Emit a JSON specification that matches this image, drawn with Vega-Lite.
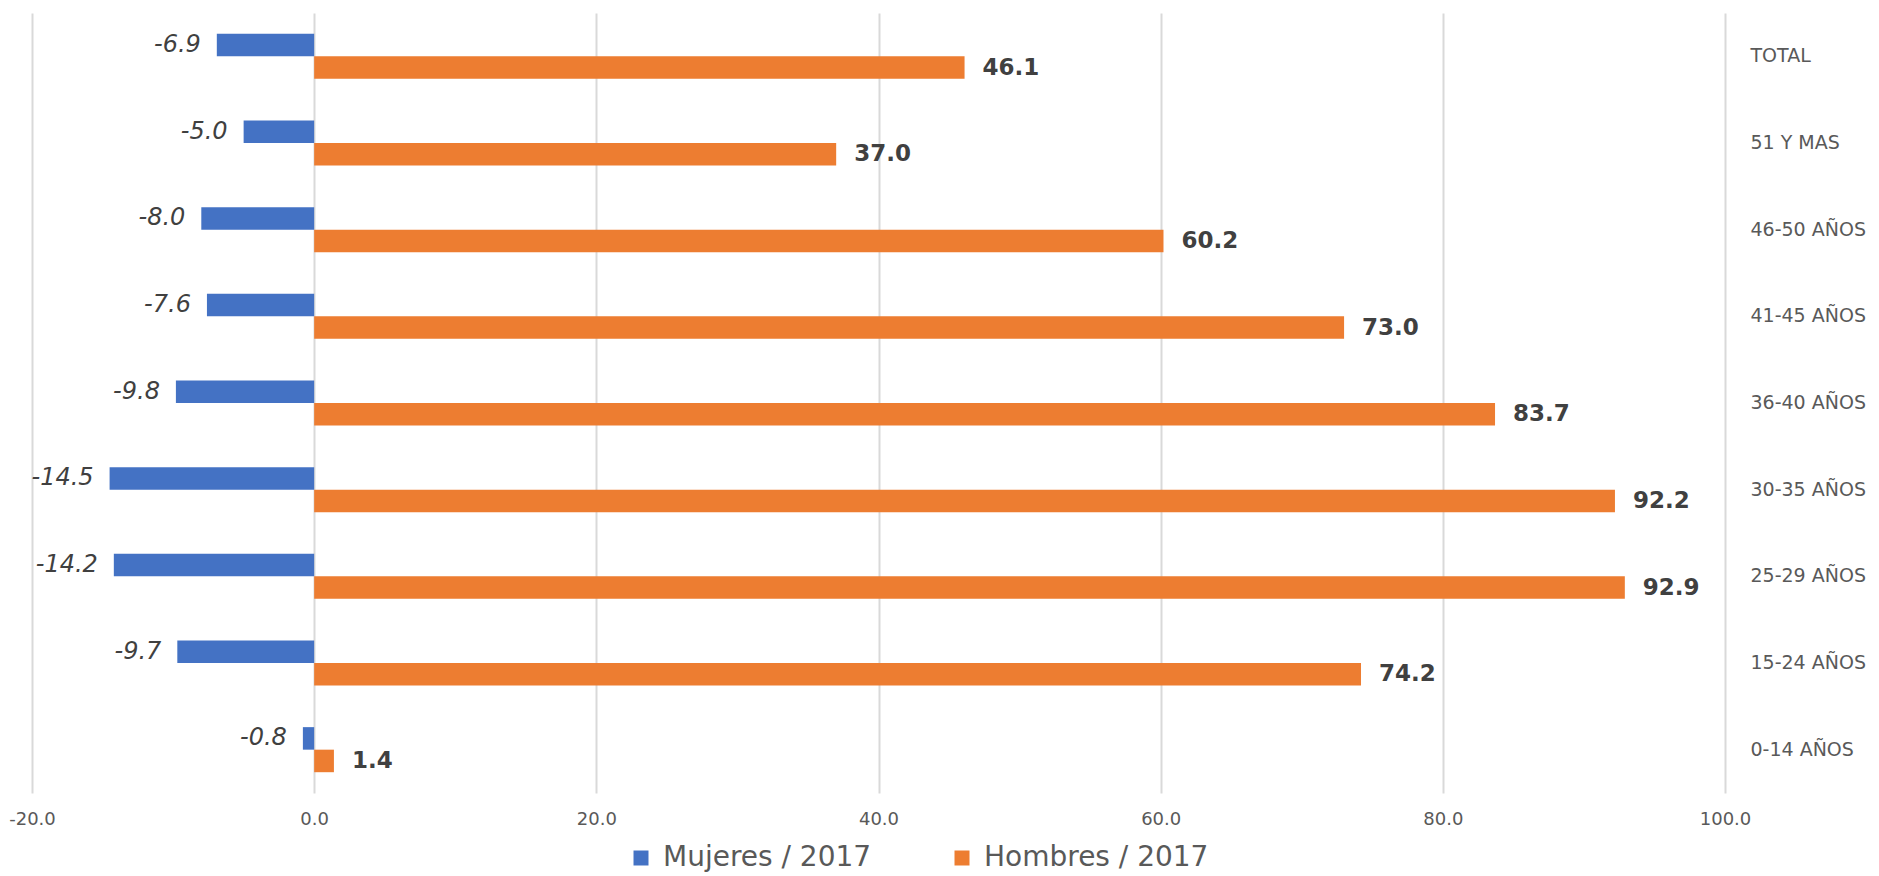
{
  "$schema": "https://vega.github.io/schema/vega-lite/v6.json",
  "width": 1693,
  "height": 780,
  "autosize": {"type": "none"},
  "padding": {"left": 32, "top": 13, "right": 154, "bottom": 83},
  "background": "white",
  "config": {
    "view": {"stroke": null},
    "locale": {"number": {"decimal": ".", "thousands": ",", "grouping": [3], "currency": ["$", ""], "minus": "-"}}
  },
  "data": {
    "values": [
      {"grupo": "TOTAL", "serie": "Mujeres / 2017", "valor": -6.9},
      {"grupo": "TOTAL", "serie": "Hombres / 2017", "valor": 46.1},
      {"grupo": "51 Y MAS", "serie": "Mujeres / 2017", "valor": -5.0},
      {"grupo": "51 Y MAS", "serie": "Hombres / 2017", "valor": 37.0},
      {"grupo": "46-50 AÑOS", "serie": "Mujeres / 2017", "valor": -8.0},
      {"grupo": "46-50 AÑOS", "serie": "Hombres / 2017", "valor": 60.2},
      {"grupo": "41-45 AÑOS", "serie": "Mujeres / 2017", "valor": -7.6},
      {"grupo": "41-45 AÑOS", "serie": "Hombres / 2017", "valor": 73.0},
      {"grupo": "36-40 AÑOS", "serie": "Mujeres / 2017", "valor": -9.8},
      {"grupo": "36-40 AÑOS", "serie": "Hombres / 2017", "valor": 83.7},
      {"grupo": "30-35 AÑOS", "serie": "Mujeres / 2017", "valor": -14.5},
      {"grupo": "30-35 AÑOS", "serie": "Hombres / 2017", "valor": 92.2},
      {"grupo": "25-29 AÑOS", "serie": "Mujeres / 2017", "valor": -14.2},
      {"grupo": "25-29 AÑOS", "serie": "Hombres / 2017", "valor": 92.9},
      {"grupo": "15-24 AÑOS", "serie": "Mujeres / 2017", "valor": -9.7},
      {"grupo": "15-24 AÑOS", "serie": "Hombres / 2017", "valor": 74.2},
      {"grupo": "0-14 AÑOS", "serie": "Mujeres / 2017", "valor": -0.8},
      {"grupo": "0-14 AÑOS", "serie": "Hombres / 2017", "valor": 1.4}
    ]
  },
  "encoding": {
    "y": {
      "field": "grupo",
      "type": "nominal",
      "sort": ["TOTAL", "51 Y MAS", "46-50 AÑOS", "41-45 AÑOS", "36-40 AÑOS", "30-35 AÑOS", "25-29 AÑOS", "15-24 AÑOS", "0-14 AÑOS"],
      "scale": {"paddingInner": 0.48, "paddingOuter": 0.24},
      "axis": {
        "orient": "right",
        "title": null,
        "domain": false,
        "ticks": false,
        "grid": false,
        "labelAlign": "left",
        "labelPadding": 25,
        "labelFont": "DejaVu Sans",
        "labelFontSize": 19,
        "labelColor": "#595959",
        "labelLimit": 300
      }
    },
    "yOffset": {
      "field": "serie",
      "type": "nominal",
      "sort": ["Mujeres / 2017", "Hombres / 2017"],
      "scale": {"paddingInner": 0, "paddingOuter": 0}
    },
    "x": {
      "field": "valor",
      "type": "quantitative",
      "scale": {"domain": [-20, 100], "nice": false, "zero": false},
      "axis": {
        "title": null,
        "values": [-20, 0, 20, 40, 60, 80, 100],
        "format": ".1f",
        "domain": false,
        "ticks": false,
        "grid": true,
        "gridColor": "#d9d9d9",
        "gridWidth": 2,
        "labelFlush": false,
        "labelPadding": 17,
        "labelFont": "DejaVu Sans",
        "labelFontSize": 18,
        "labelColor": "#595959"
      }
    }
  },
  "layer": [
    {
      "mark": {"type": "bar"},
      "encoding": {
        "color": {
          "field": "serie",
          "type": "nominal",
          "sort": ["Mujeres / 2017", "Hombres / 2017"],
          "scale": {"domain": ["Mujeres / 2017", "Hombres / 2017"], "range": ["#4472C4", "#ED7D31"]},
          "legend": {
            "title": null,
            "orient": "none",
            "legendX": 595,
            "legendY": 831,
            "direction": "horizontal",
            "symbolType": "square",
            "symbolSize": 225,
            "symbolStrokeWidth": 0,
            "labelFont": "DejaVu Sans",
            "labelFontSize": 28,
            "labelColor": "#595959",
            "labelOffset": 8,
            "labelLimit": 500,
            "columnPadding": 76
          }
        }
      }
    },
    {
      "transform": [{"filter": "datum.serie === 'Mujeres / 2017'"}],
      "mark": {"type": "text", "align": "right", "baseline": "middle", "dx": -16, "font": "DejaVu Sans", "fontStyle": "italic", "fontSize": 24, "color": "#404040"},
      "encoding": {"text": {"field": "valor", "type": "quantitative", "format": ".1f"}}
    },
    {
      "transform": [{"filter": "datum.serie === 'Hombres / 2017'"}],
      "mark": {"type": "text", "align": "left", "baseline": "middle", "dx": 18, "font": "DejaVu Sans", "fontWeight": "bold", "fontSize": 23, "color": "#404040"},
      "encoding": {"text": {"field": "valor", "type": "quantitative", "format": ".1f"}}
    }
  ]
}
